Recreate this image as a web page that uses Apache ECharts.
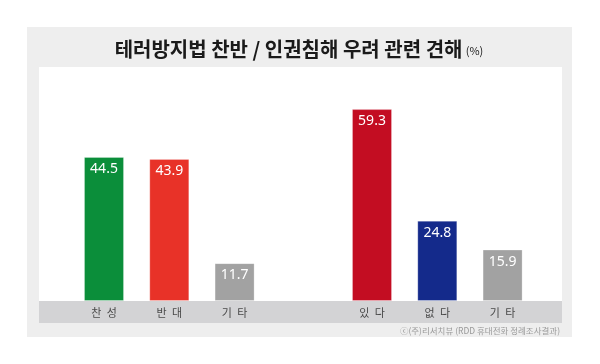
<!DOCTYPE html>
<html><head><meta charset="utf-8">
<script src="https://cdn.jsdelivr.net/npm/echarts@6/dist/echarts.min.js"></script>
<style>html,body{margin:0;padding:0;background:#fff}#c{width:600px;height:364px}</style>
</head><body><div id="c"></div>
<script>
const titleText = '테러방지법 찬반 / 인권침해 우려 관련 견해';
const unitText = '(%)';
const sourceText = 'ⓒ(주)리서치뷰 (RDD 휴대전화 정례조사결과)';
const categoriesA = ['찬 성', '반 대', '기 타'];
const valuesA = [44.5, 43.9, 11.7];
const colorsA = ['#0b8e3a', '#e83228', '#a2a2a2'];
const categoriesB = ['있 다', '없 다', '기 타'];
const valuesB = [59.3, 24.8, 15.9];
const colorsB = ['#c30d22', '#142a8b', '#a2a2a2'];

const chart = echarts.init(document.getElementById('c'), null, {renderer: 'canvas'});
const kr = '"Noto Sans CJK KR", "Noto Sans", sans-serif';
function catAxis(i, cats) {
  return {
    type: 'category', gridIndex: i, data: cats,
    axisLine: {show: false}, axisTick: {show: false}, splitLine: {show: false},
    axisLabel: {margin: 6, fontSize: 11, color: '#4a4a4a', fontFamily: kr,
      formatter: v => v.split(' ').join('\u2002')}
  };
}
function valAxis(i) {
  return {type: 'value', gridIndex: i, min: 0, max: 72, show: false, splitLine: {show: false}};
}
function barSeries(i, vals, cols) {
  return {
    type: 'bar', xAxisIndex: i, yAxisIndex: i, barWidth: 40,
    data: vals.map((v, k) => ({value: v, itemStyle: {color: cols[k], borderColor: 'rgba(255,255,255,0.25)', borderWidth: 1}})),
    label: {show: true, position: 'insideTop', distance: 5, color: '#fff', fontSize: 14,
      fontFamily: '"Noto Sans", sans-serif', formatter: p => p.value.toFixed(1)}
  };
}
chart.setOption({
  animation: false,
  backgroundColor: '#ffffff',
  graphic: [
    {type: 'rect', z: -3, shape: {x: 27, y: 27, width: 545, height: 310}, style: {fill: '#eeeeee'}},
    {type: 'rect', z: -2, shape: {x: 39, y: 67, width: 523, height: 234}, style: {fill: '#ffffff'}},
    {type: 'rect', z: -2, shape: {x: 39, y: 301, width: 523, height: 22}, style: {fill: '#d3d3d5'}},
    {type: 'text', z: 5, x: 299, y: 49, style: {
      text: '{t|' + titleText + '} {u|' + unitText + '}', align: 'center', verticalAlign: 'middle',
      rich: {
        t: {fontSize: 20, fontWeight: 'bold', fill: '#1a1a1a', fontFamily: kr},
        u: {fontSize: 11, fill: '#1a1a1a', fontFamily: kr, padding: [4, 0, 0, 0]}
      }}},
    {type: 'text', z: 5, x: 560, y: 331, style: {
      text: sourceText, align: 'right', verticalAlign: 'middle',
      fontSize: 8.5, fill: '#9a9a9a', fontFamily: kr}}
  ],
  grid: [
    {left: 71.35, top: 68, width: 195.9, height: 233},
    {left: 339.35, top: 68, width: 195.9, height: 233}
  ],
  xAxis: [catAxis(0, categoriesA), catAxis(1, categoriesB)],
  yAxis: [valAxis(0), valAxis(1)],
  series: [barSeries(0, valuesA, colorsA), barSeries(1, valuesB, colorsB)]
});
</script></body></html>
